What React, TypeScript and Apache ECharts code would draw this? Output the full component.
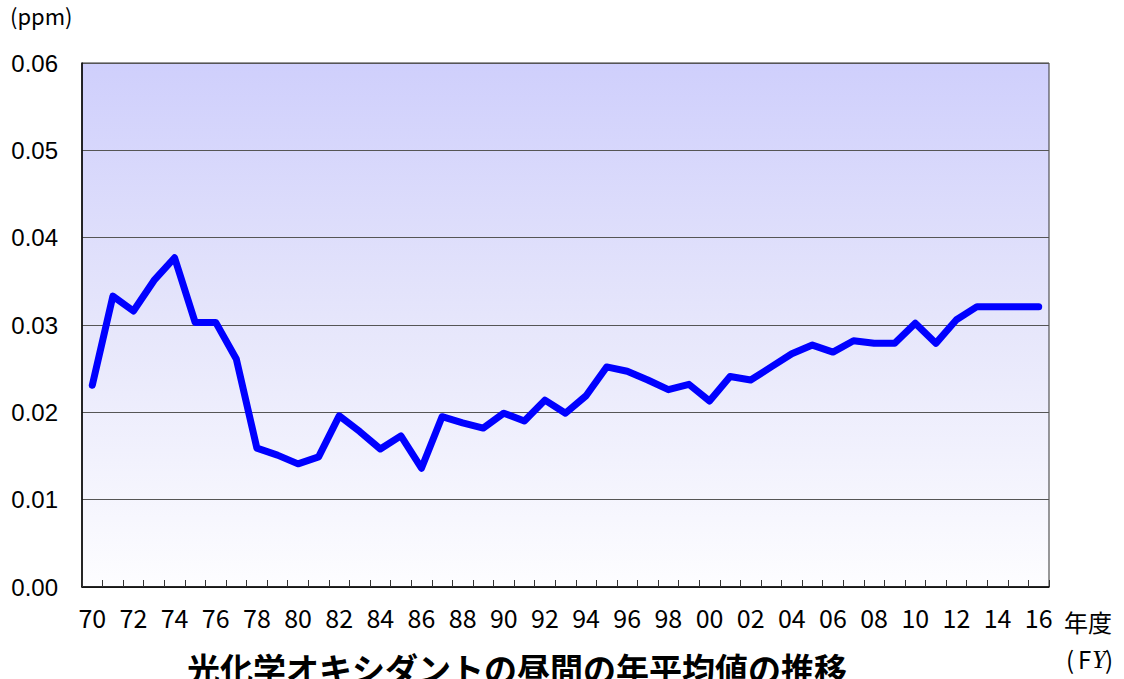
import React, { useEffect, useRef } from "react";
import * as echarts from "echarts";

const years = [
  "70","71","72","73","74","75","76","77","78","79",
  "80","81","82","83","84","85","86","87","88","89",
  "90","91","92","93","94","95","96","97","98","99",
  "00","01","02","03","04","05","06","07","08","09",
  "10","11","12","13","14","15","16",
];
const values = [
  0.0231, 0.0333, 0.0316, 0.0351, 0.0377, 0.0303, 0.0303, 0.0261, 0.0159, 0.0151,
  0.0141, 0.0149, 0.0196, 0.0178, 0.0158, 0.0173, 0.0136, 0.0195, 0.0188, 0.0182,
  0.0199, 0.0190, 0.0214, 0.0199, 0.0219, 0.0252, 0.0247, 0.0237, 0.0226, 0.0232,
  0.0213, 0.0241, 0.0237, 0.0252, 0.0267, 0.0277, 0.0269, 0.0282, 0.0279, 0.0279,
  0.0302, 0.0279, 0.0306, 0.0321, 0.0321, 0.0321, 0.0321,
];
const yTicks = { min: 0, max: 0.06, interval: 0.01 };
const title = "光化学オキシダントの昼間の年平均値の推移";
const unitLabel = "(ppm)";
const xUnit1 = "年度";
const xUnit2 = ["(", "F", "Y", ")"];

export default function App() {
  const ref = useRef<HTMLDivElement>(null);
  useEffect(() => {
    document.body.style.margin = "0";
    const chart = echarts.init(ref.current!, null, { renderer: "svg" });
    const sans = "'Noto Sans CJK JP', sans-serif";
    chart.setOption({
      animation: false,
      backgroundColor: "#ffffff",
      grid: {
        left: 82,
        top: 63,
        right: 75,
        bottom: 92,
        show: true,
        borderColor: "#333",
        borderWidth: 1,
        backgroundColor: new echarts.graphic.LinearGradient(0, 0, 0, 1, [
          { offset: 0, color: "#cfcffc" },
          { offset: 0.5, color: "#e6e6fb" },
          { offset: 1, color: "#fdfdff" },
        ]),
      },
      xAxis: {
        type: "category",
        data: years,
        boundaryGap: true,
        axisLine: { lineStyle: { color: "#000", width: 1.5 } },
        axisTick: {
          show: true,
          inside: true,
          length: 7,
          interval: 0,
          lineStyle: { color: "#333" },
        },
        axisLabel: {
          interval: 1,
          margin: 17,
          fontSize: 25,
          color: "#000",
          fontFamily: sans,
        },
        splitLine: { show: false },
      },
      yAxis: {
        type: "value",
        min: yTicks.min,
        max: yTicks.max,
        interval: yTicks.interval,
        axisLine: { show: true, lineStyle: { color: "#000", width: 1.5 } },
        axisTick: { show: false },
        axisLabel: {
          formatter: (v: number) => v.toFixed(2),
          fontSize: 24,
          color: "#000",
          margin: 24,
          fontFamily: "'Liberation Sans', Arial, sans-serif",
        },
        splitLine: { show: true, lineStyle: { color: "#555", width: 1 } },
      },
      series: [
        {
          type: "line",
          data: values,
          symbol: "none",
          lineStyle: { color: "#0000ff", width: 7, cap: "round", join: "round" },
        },
      ],
      graphic: [
        {
          type: "text",
          left: 10,
          top: 4,
          style: { text: unitLabel, fontSize: 22, fill: "#000", fontFamily: sans },
        },
        {
          type: "text",
          left: 1064,
          top: 609,
          style: { text: xUnit1, fontSize: 24, fill: "#000", fontFamily: sans },
        },
        {
          type: "text",
          left: 1066,
          top: 646,
          style: { text: xUnit2[0], fontSize: 24, fill: "#000", fontFamily: sans },
        },
        {
          type: "text",
          left: 1078,
          top: 646,
          style: { text: xUnit2[1], fontSize: 24, fill: "#000", fontFamily: sans },
        },
        {
          type: "text",
          left: 1092,
          top: 647,
          style: {
            text: xUnit2[2],
            fontSize: 25,
            fontStyle: "italic",
            fill: "#000",
            fontFamily: "'Liberation Serif', serif",
          },
        },
        {
          type: "text",
          left: 1105,
          top: 646,
          style: { text: xUnit2[3], fontSize: 24, fill: "#000", fontFamily: sans },
        },
        {
          type: "text",
          x: 517,
          y: 651,
          style: {
            text: title,
            fontSize: 33,
            fontWeight: "bold",
            fill: "#000",
            align: "center",
            verticalAlign: "top",
            fontFamily: sans,
          },
        },
      ],
    });
    return () => chart.dispose();
  }, []);
  return <div ref={ref} style={{ width: 1124, height: 679 }} />;
}
